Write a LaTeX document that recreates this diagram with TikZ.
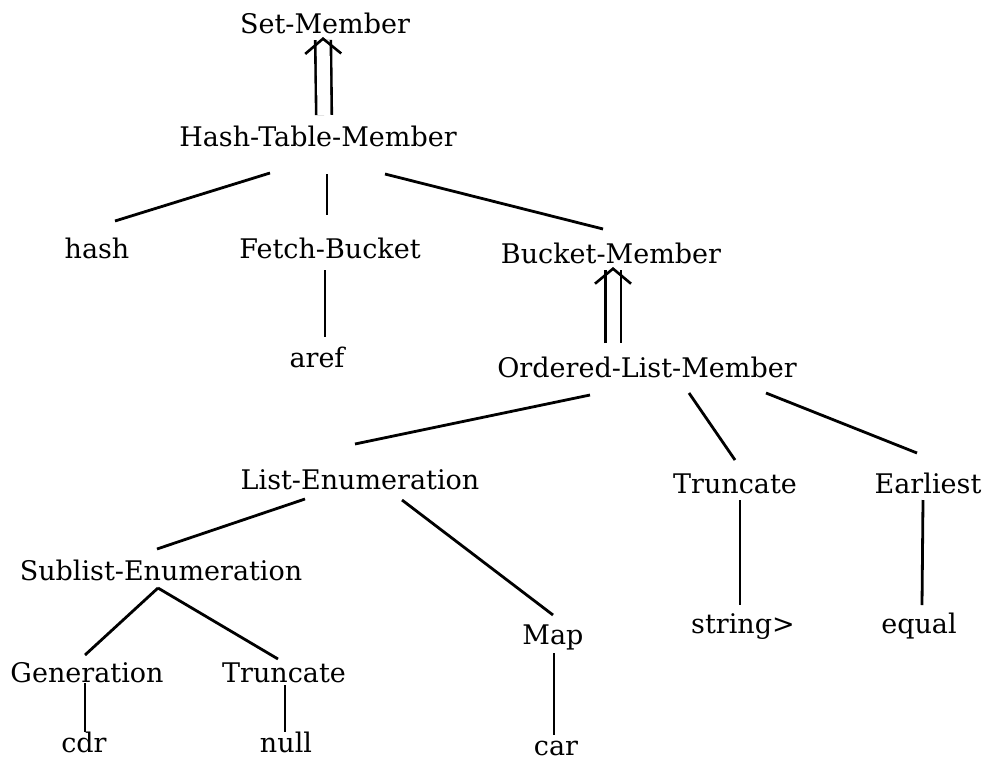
\documentclass[tikz,border=0pt]{standalone}
\usepackage{fontspec}
\setmainfont{DejaVu Serif}
\usetikzlibrary{arrows.meta}

\begin{document}
\begin{tikzpicture}[x=1pt,y=-1pt,
  every node/.style={font=\fontsize{27}{30}\selectfont,anchor=base,inner sep=0pt},
  link/.style={line width=2.8pt},
  isa/.style={double,double distance=13pt,line width=2.6pt,
    -{Straight Barb[length=15pt,width=36pt,line width=2.6pt]}}]
  \useasboundingbox (0,0) rectangle (987,763);

  % top of the hierarchy
  \node (sm) at (325,33) {Set-Member};
  \node (htm) at (318,146) {Hash-Table-Member};
  \node (hash) at (97,258) {hash};
  \node (fb) at (330,258) {Fetch-Bucket};
  \node (bm) at (611,263) {Bucket-Member};
  \node (aref) at (317,367) {aref};
  \node (olm) at (647,377) {Ordered-List-Member};

  % ordered list parts
  \node (le) at (360,489) {List-Enumeration};
  \node (trc) at (735,493) {Truncate};
  \node (ear) at (928,493) {Earliest};
  \node (se) at (161,580) {Sublist-Enumeration};
  \node (map) at (553,644) {Map};
  \node (str) at (743,633) {string>};
  \node (eq) at (919,633) {equal};
  \node (gen) at (87,682) {Generation};
  \node (trn) at (284,682) {Truncate};
  \node (cdr) at (84,752) {cdr};
  \node (null) at (286,752) {null};
  \node (car) at (556,755) {car};

  % refinements
  \draw[isa] ([shift={(6,-31)}]htm.base) -- ([shift={(-2,4)}]sm.base);
  \draw[isa] ([shift={(-34,-34)}]olm.base) -- ([shift={(2,4)}]bm.base);

  % decompositions
  \draw[link] ([shift={(-48,27)}]htm.base) -- ([shift={(18,-37)}]hash.base);
  \draw[link] ([shift={(9,28)}]htm.base) -- ([shift={(-3,-43)}]fb.base);
  \draw[link] ([shift={(67,28)}]htm.base) -- ([shift={(-8,-34)}]bm.base);
  \draw[link] ([shift={(-5,12)}]fb.base) -- ([shift={(8,-30)}]aref.base);
  \draw[link] ([shift={(-57,18)}]olm.base) -- ([shift={(-5,-45)}]le.base);
  \draw[link] ([shift={(42,16)}]olm.base) -- ([shift={(0,-33)}]trc.base);
  \draw[link] ([shift={(119,16)}]olm.base) -- ([shift={(-11,-40)}]ear.base);
  \draw[link] ([shift={(-55,10)}]le.base) -- ([shift={(-4,-31)}]se.base);
  \draw[link] ([shift={(42,11)}]le.base) -- ([shift={(0,-29)}]map.base);
  \draw[link] ([shift={(5,7)}]trc.base) -- ([shift={(-3,-28)}]str.base);
  \draw[link] ([shift={(-5,7)}]ear.base) -- ([shift={(3,-28)}]eq.base);
  \draw[link] ([shift={(-3,8)}]se.base) -- ([shift={(-2,-27)}]gen.base);
  \draw[link] ([shift={(-3,8)}]se.base) -- ([shift={(-6,-23)}]trn.base);
  \draw[link] ([shift={(-2,1)}]gen.base) -- ([shift={(1,-20)}]cdr.base);
  \draw[link] ([shift={(1,3)}]trn.base) -- ([shift={(-1,-20)}]null.base);
  \draw[link] ([shift={(1,9)}]map.base) -- ([shift={(-2,-20)}]car.base);
\end{tikzpicture}
\end{document}
